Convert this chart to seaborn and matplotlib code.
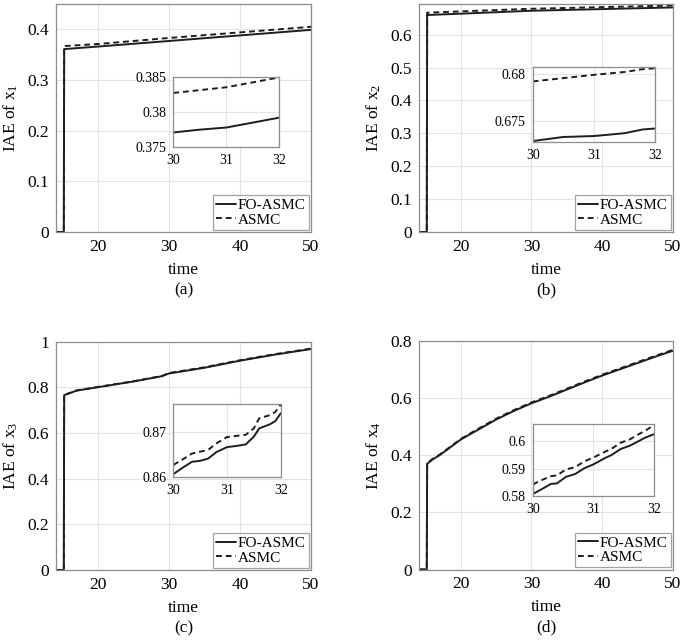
import numpy as np
import pandas as pd
import matplotlib
matplotlib.use("Agg")
import matplotlib.pyplot as plt
import seaborn as sns
from matplotlib.ticker import FormatStrFormatter

sns.set_theme(style="whitegrid")
plt.rcParams['font.family'] = ['Liberation Serif', 'DejaVu Serif']
plt.rcParams['mathtext.fontset'] = 'custom'
plt.rcParams['mathtext.rm'] = 'Liberation Serif'

series_names = ["FO-ASMC", "ASMC"]
ylabels = ["IAE of $\\mathregular{x_1}$", "IAE of $\\mathregular{x_2}$",
           "IAE of $\\mathregular{x_3}$", "IAE of $\\mathregular{x_4}$"]
captions = ["(a)", "(b)", "(c)", "(d)"]

# ---- main curves ----
t_a = [14.1, 15.2, 15.25, 20, 30, 40, 50]
fo_a = [0, 0, 0.361, 0.366, 0.377, 0.388, 0.399]
as_a = [0, 0, 0.367, 0.371, 0.383, 0.394, 0.405]

t_b = [14.1, 15.2, 15.25, 20, 30, 40, 50]
fo_b = [0, 0, 0.660, 0.664, 0.673, 0.678, 0.683]
as_b = [0, 0, 0.667, 0.671, 0.679, 0.684, 0.689]

t_c = [14.1, 15.2, 15.25, 17, 20, 25, 29, 30, 35, 40, 45, 50]
fo_c = [0, 0, 0.765, 0.785, 0.800, 0.825, 0.848, 0.860, 0.885, 0.916, 0.943, 0.967]
as_c = [0, 0, 0.766, 0.786, 0.801, 0.826, 0.849, 0.862, 0.887, 0.918, 0.945, 0.969]

t_d = [14.1, 15.2, 15.25, 16, 17, 18, 20, 22.5, 25, 27.5, 30, 32.5, 35, 37.5, 40, 42.5, 45, 47.5, 50]
fo_d = [0, 0, 0.370, 0.385, 0.400, 0.418, 0.455, 0.490, 0.525, 0.555, 0.582, 0.605,
        0.630, 0.655, 0.679, 0.701, 0.723, 0.745, 0.766]
as_d = [0, 0, 0.371, 0.387, 0.402, 0.420, 0.457, 0.493, 0.528, 0.558, 0.585, 0.608,
        0.633, 0.658, 0.682, 0.704, 0.726, 0.748, 0.769]

# ---- zoomed (inset) curves ----
zt_a = [30, 30.5, 31, 31.5, 32]
zfo_a = [0.3771, 0.3775, 0.3778, 0.3785, 0.3792]
zas_a = [0.3827, 0.3831, 0.3835, 0.3842, 0.3849]

zt_b = [30, 30.5, 31, 31.5, 31.8, 32]
zfo_b = [0.67287, 0.6733, 0.6734, 0.6737, 0.6741, 0.6742]
zas_b = [0.6792, 0.67955, 0.6799, 0.6802, 0.6805, 0.6806]

zt_c = [30, 30.2, 30.35, 30.5, 30.65, 30.8, 31, 31.2, 31.35, 31.5, 31.6, 31.8, 31.9, 32]
zfo_c = [0.8607, 0.8623, 0.8634, 0.8636, 0.8641, 0.8655, 0.8666, 0.8669, 0.8672,
         0.8689, 0.8707, 0.8716, 0.8723, 0.8740]
zas_c = [0.8627, 0.8641, 0.8652, 0.8656, 0.8660, 0.8674, 0.8688, 0.8691, 0.8693,
         0.8707, 0.8729, 0.8736, 0.8743, 0.8759]

zt_d = [30, 30.15, 30.3, 30.4, 30.55, 30.7, 30.85, 31, 31.2, 31.3, 31.45, 31.6, 31.75, 31.85, 32]
zfo_d = [0.5807, 0.5825, 0.5844, 0.5846, 0.5870, 0.5880, 0.5901, 0.5915, 0.5939,
         0.5949, 0.5971, 0.5983, 0.6000, 0.6012, 0.6025]
zas_d = [0.5842, 0.5858, 0.5872, 0.5875, 0.5897, 0.5905, 0.5926, 0.5940, 0.5962,
         0.5972, 0.5994, 0.6006, 0.6025, 0.6037, 0.6058]

main_data = [(t_a, fo_a, as_a), (t_b, fo_b, as_b), (t_c, fo_c, as_c), (t_d, fo_d, as_d)]
zoom_data = [(zt_a, zfo_a, zas_a), (zt_b, zfo_b, zas_b), (zt_c, zfo_c, zas_c), (zt_d, zfo_d, zas_d)]

W, H = 685, 640
fig = plt.figure(figsize=(W / 100, H / 100), dpi=100)
fig.patch.set_facecolor("white")

def fr(l, t, r, b):
    return [l / W, 1 - b / H, (r - l) / W, (b - t) / H]

main_pos = [fr(56, 4, 311, 232), fr(419, 3.5, 673, 232),
            fr(56, 341.5, 311, 570), fr(419, 341, 673, 569.5)]
inset_pos = [fr(173.3, 76.7, 279.3, 147.3), fr(532.7, 67.3, 655, 141.7),
             fr(173.3, 403.7, 280.7, 477.3), fr(532.7, 424.3, 654, 496)]
main_ylim = [(0, 0.45), (0, 0.695), (0, 1.0), (0, 0.8)]
main_yticks = [[0, 0.1, 0.2, 0.3, 0.4], [0, 0.1, 0.2, 0.3, 0.4, 0.5, 0.6],
               [0, 0.2, 0.4, 0.6, 0.8, 1.0], [0, 0.2, 0.4, 0.6, 0.8]]
inset_ylim = [(0.375, 0.385), (0.6728, 0.6807), (0.86, 0.8761), (0.58, 0.6061)]
inset_yticks = [[0.375, 0.38, 0.385], [0.675, 0.68], [0.86, 0.87], [0.58, 0.59, 0.6]]

LINE = "#1e1e1e"
SPINE = "#8c8c8c"
GRID = "#e3e3e3"
TXT = "#000000"

def style_axes(ax, fs):
    ax.set_facecolor("white")
    for s in ax.spines.values():
        s.set_color(SPINE)
        s.set_linewidth(0.9)
        s.set_visible(True)
    ax.grid(True, color=GRID, linewidth=0.8)
    ax.tick_params(direction="in", length=3, width=0.6, color=SPINE,
                   labelsize=fs, labelcolor=TXT, pad=5)
    ax.yaxis.set_major_formatter(FormatStrFormatter("%g"))
    ax.xaxis.set_major_formatter(FormatStrFormatter("%g"))

for i in range(4):
    t, fo, asm = main_data[i]
    ax = fig.add_axes(main_pos[i])
    sns.lineplot(x=t, y=fo, ax=ax, color=LINE, linewidth=1.4, label=series_names[0])
    sns.lineplot(x=t, y=asm, ax=ax, color=LINE, linewidth=1.4, linestyle=(0, (3, 2)),
                 label=series_names[1])
    ax.set_xlim(14.1, 50)
    ax.set_ylim(*main_ylim[i])
    ax.set_xticks([20, 30, 40, 50])
    ax.set_yticks(main_yticks[i])
    style_axes(ax, 12.5)
    ax.set_xlabel("time", fontsize=12.5, color=TXT, labelpad=5)
    ax.set_ylabel(ylabels[i], fontsize=12.5, color=TXT, labelpad=5)
    leg = ax.legend(loc="lower right", fontsize=11, frameon=True, fancybox=False,
                    borderaxespad=0.15, handlelength=1.3, handletextpad=0.1,
                    borderpad=0.2, labelspacing=0.05)
    leg.get_frame().set_edgecolor(SPINE)
    leg.get_frame().set_linewidth(0.9)
    for txt in leg.get_texts():
        txt.set_color(TXT)
    pos = ax.get_position()
    fig.text(pos.x0 + pos.width / 2, pos.y0 - 58 / H, captions[i], ha="center",
             va="center", fontsize=12.5, color=TXT)

    zt, zfo, zas = zoom_data[i]
    ins = fig.add_axes(inset_pos[i])
    sns.lineplot(x=zt, y=zfo, ax=ins, color=LINE, linewidth=1.4)
    sns.lineplot(x=zt, y=zas, ax=ins, color=LINE, linewidth=1.4, linestyle=(0, (3, 2)))
    ins.set_xlim(30, 32)
    ins.set_ylim(*inset_ylim[i])
    ins.set_xticks([30, 31, 32])
    ins.set_yticks(inset_yticks[i])
    style_axes(ins, 10)
    ins.set_xlabel("")
    ins.set_ylabel("")

fig.savefig("out.png", dpi=100, facecolor="white")
